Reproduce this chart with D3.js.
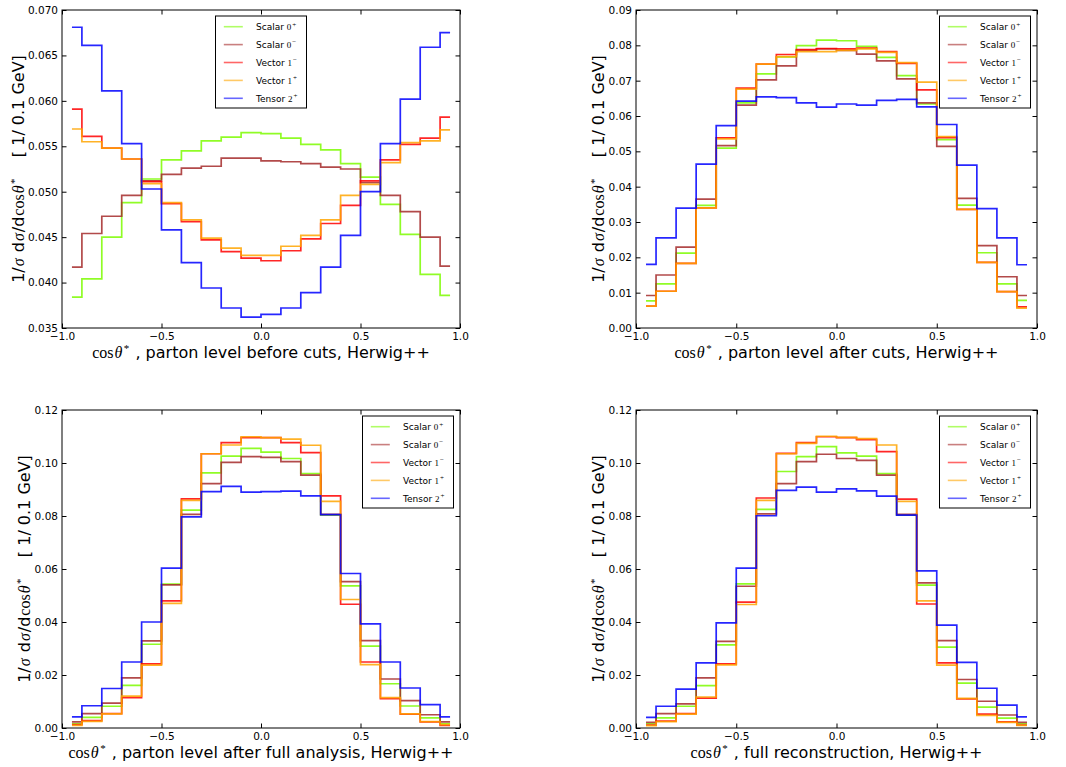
<!DOCTYPE html>
<html>
<head>
<meta charset="utf-8">
<script src="https://cdn.jsdelivr.net/npm/d3@7"></script>
<style>
  body { margin: 0; background: #fff; }
  svg { display: block; }
  text { font-family: "DejaVu Sans", sans-serif; white-space: pre; }
</style>
</head>
<body>
<svg id="chart" width="1066" height="767"></svg>
<script>
// ---------------- DATA ----------------
const binCenters = [-0.95,-0.85,-0.75,-0.65,-0.55,-0.45,-0.35,-0.25,-0.15,-0.05,
                     0.05, 0.15, 0.25, 0.35, 0.45, 0.55, 0.65, 0.75, 0.85, 0.95];

const seriesNames  = ["Scalar", "Scalar", "Vector", "Vector", "Tensor"];
const seriesSpin   = ["0", "0", "1", "1", "2"];
const seriesParity = ["+", "\u2212", "\u2212", "+", "+"];
const seriesColors = ["#7cfc00", "#a52a2a", "#ff0000", "#ffa500", "#0000ff"];

const xTicks   = [-1.0, -0.5, 0.0, 0.5, 1.0];
const p1YTicks = [0.035, 0.040, 0.045, 0.050, 0.055, 0.060, 0.065, 0.070];
const p2YTicks = [0.00, 0.01, 0.02, 0.03, 0.04, 0.05, 0.06, 0.07, 0.08, 0.09];
const p3YTicks = [0.00, 0.02, 0.04, 0.06, 0.08, 0.10, 0.12];

// Panel 1: parton level before cuts
const p1Scalar0p = [0.0384,0.0404,0.0450,0.0488,0.0514,0.0535,0.0545,0.0556,0.0560,0.0565,0.0564,0.0559,0.0552,0.0546,0.0531,0.0516,0.0486,0.0453,0.0409,0.0386];
const p1Scalar0m = [0.0417,0.0454,0.0473,0.0496,0.0512,0.0519,0.0526,0.0528,0.0537,0.0537,0.0534,0.0533,0.0531,0.0527,0.0525,0.0510,0.0496,0.0478,0.0450,0.0418];
const p1Vector1m = [0.0591,0.0561,0.0548,0.0536,0.0511,0.0487,0.0467,0.0447,0.0434,0.0427,0.0424,0.0435,0.0448,0.0465,0.0485,0.0512,0.0535,0.0552,0.0559,0.0582];
const p1Vector1p = [0.0569,0.0555,0.0548,0.0536,0.0509,0.0488,0.0469,0.0449,0.0438,0.0430,0.0430,0.0440,0.0452,0.0469,0.0496,0.0508,0.0532,0.0554,0.0556,0.0568];
const p1Tensor2p = [0.0681,0.0661,0.0611,0.0553,0.0503,0.0458,0.0422,0.0394,0.0372,0.0362,0.0365,0.0372,0.0389,0.0417,0.0452,0.0500,0.0553,0.0602,0.0659,0.0675];

// Panel 2: parton level after cuts
const p2Scalar0p = [0.0077,0.0125,0.0212,0.0347,0.0509,0.0637,0.0719,0.0767,0.0799,0.0815,0.0813,0.0797,0.0766,0.0714,0.0634,0.0533,0.0348,0.0213,0.0125,0.0078];
const p2Scalar0m = [0.0092,0.0150,0.0229,0.0365,0.0516,0.0631,0.0702,0.0742,0.0786,0.0790,0.0786,0.0775,0.0756,0.0705,0.0637,0.0514,0.0367,0.0233,0.0145,0.0092];
const p2Vector1m = [0.0062,0.0104,0.0183,0.0340,0.0538,0.0679,0.0747,0.0774,0.0788,0.0791,0.0790,0.0792,0.0782,0.0749,0.0674,0.0539,0.0336,0.0186,0.0103,0.0060];
const p2Vector1p = [0.0062,0.0104,0.0183,0.0340,0.0535,0.0676,0.0747,0.0768,0.0782,0.0782,0.0786,0.0790,0.0780,0.0751,0.0696,0.0542,0.0336,0.0186,0.0103,0.0056];
const p2Tensor2p = [0.0180,0.0255,0.0339,0.0464,0.0573,0.0642,0.0654,0.0652,0.0637,0.0625,0.0634,0.0631,0.0644,0.0647,0.0626,0.0576,0.0461,0.0338,0.0255,0.0179];

// Panel 3: parton level after full analysis
const p3Scalar0p = [0.0016,0.0040,0.0082,0.0161,0.0316,0.0543,0.0822,0.0963,0.1026,0.1055,0.1041,0.1017,0.0960,0.0803,0.0536,0.0309,0.0167,0.0083,0.0038,0.0016];
const p3Scalar0m = [0.0023,0.0054,0.0094,0.0189,0.0329,0.0540,0.0806,0.0922,0.1002,0.1024,0.1021,0.1005,0.0954,0.0806,0.0552,0.0330,0.0185,0.0103,0.0050,0.0023];
const p3Vector1m = [0.0013,0.0028,0.0054,0.0115,0.0242,0.0480,0.0865,0.1035,0.1077,0.1096,0.1096,0.1077,0.1039,0.0876,0.0467,0.0249,0.0111,0.0052,0.0023,0.0010];
const p3Vector1p = [0.0010,0.0025,0.0053,0.0120,0.0237,0.0470,0.0859,0.1035,0.1068,0.1099,0.1096,0.1090,0.1067,0.0855,0.0485,0.0239,0.0115,0.0053,0.0024,0.0013];
const p3Tensor2p = [0.0042,0.0084,0.0149,0.0249,0.0400,0.0603,0.0797,0.0892,0.0912,0.0890,0.0892,0.0894,0.0876,0.0805,0.0583,0.0393,0.0249,0.0151,0.0088,0.0042];

// Panel 4: full reconstruction
const p4Scalar0p = [0.0016,0.0038,0.0082,0.0160,0.0314,0.0544,0.0825,0.0968,0.1024,0.1062,0.1038,0.1026,0.0960,0.0803,0.0539,0.0305,0.0169,0.0079,0.0037,0.0016];
const p4Scalar0m = [0.0021,0.0054,0.0091,0.0189,0.0327,0.0535,0.0808,0.0922,0.1005,0.1033,0.1017,0.1010,0.0954,0.0806,0.0548,0.0330,0.0183,0.0101,0.0049,0.0021];
const p4Vector1m = [0.0011,0.0026,0.0054,0.0113,0.0242,0.0475,0.0868,0.1036,0.1077,0.1099,0.1096,0.1088,0.1043,0.0864,0.0468,0.0246,0.0110,0.0052,0.0023,0.0011];
const p4Vector1p = [0.0009,0.0024,0.0052,0.0117,0.0238,0.0466,0.0859,0.1035,0.1074,0.1101,0.1097,0.1092,0.1068,0.0855,0.0480,0.0237,0.0112,0.0048,0.0021,0.0010];
const p4Tensor2p = [0.0040,0.0082,0.0147,0.0246,0.0397,0.0603,0.0801,0.0897,0.0909,0.0890,0.0902,0.0895,0.0875,0.0803,0.0593,0.0388,0.0248,0.0150,0.0086,0.0042];

const xLabelTexts = [
  " , parton level before cuts, Herwig++",
  " , parton level after cuts, Herwig++",
  " , parton level after full analysis, Herwig++",
  " , full reconstruction, Herwig++"
];

// ---------------- LAYOUT ----------------
const panels = [
  { x0: 62,  y0: 10,  w: 398, h: 318, yDomain: [0.035, 0.070], yTicks: p1YTicks, yFmt: ".3f", legend: "center", ylabOff: 38,
    series: [p1Scalar0p, p1Scalar0m, p1Vector1m, p1Vector1p, p1Tensor2p], xlab: xLabelTexts[0] },
  { x0: 636, y0: 10,  w: 401, h: 318, yDomain: [0.00, 0.09], yTicks: p2YTicks, yFmt: ".2f", legend: "right", ylabOff: 32,
    series: [p2Scalar0p, p2Scalar0m, p2Vector1m, p2Vector1p, p2Tensor2p], xlab: xLabelTexts[1] },
  { x0: 62,  y0: 410, w: 398, h: 318, yDomain: [0.00, 0.12], yTicks: p3YTicks, yFmt: ".2f", legend: "right", ylabOff: 32,
    series: [p3Scalar0p, p3Scalar0m, p3Vector1m, p3Vector1p, p3Tensor2p], xlab: xLabelTexts[2] },
  { x0: 636, y0: 410, w: 401, h: 318, yDomain: [0.00, 0.12], yTicks: p3YTicks, yFmt: ".2f", legend: "right", ylabOff: 32,
    series: [p4Scalar0p, p4Scalar0m, p4Vector1m, p4Vector1p, p4Tensor2p], xlab: xLabelTexts[3] }
];

const svg = d3.select("#chart");
svg.append("rect").attr("width", 1066).attr("height", 767).attr("fill", "#fff");

const TICK = 4.5;
const serif = "'Liberation Serif','DejaVu Serif',serif";
const LABEL_FS = 16;

panels.forEach((p, pi) => {
  const g = svg.append("g").attr("transform", `translate(${p.x0},${p.y0})`);
  const x = d3.scaleLinear().domain([-1, 1]).range([0, p.w]);
  const y = d3.scaleLinear().domain(p.yDomain).range([p.h, 0]);

  const cid = "clip" + pi;
  g.append("clipPath").attr("id", cid).append("rect").attr("width", p.w).attr("height", p.h);

  const line = d3.line().x((d, i) => x(binCenters[i])).y(d => y(d)).curve(d3.curveStep);
  const lg = g.append("g").attr("clip-path", `url(#${cid})`);
  p.series.forEach((s, si) => {
    lg.append("path").datum(s)
      .attr("d", line)
      .attr("fill", "none")
      .attr("stroke", seriesColors[si])
      .attr("stroke-width", 1.7)
      .attr("stroke-opacity", 0.85);
  });

  const styleAxis = (sel) => {
    sel.select(".domain").remove();
    sel.selectAll(".tick line").attr("stroke", "#000").attr("stroke-width", 1);
    sel.selectAll("text").attr("font-family", "'DejaVu Sans',sans-serif").attr("font-size", 10.5).attr("fill", "#000");
  };
  g.append("g").attr("transform", `translate(0,${p.h})`)
    .call(d3.axisBottom(x).tickValues(xTicks).tickFormat(d3.format(".1f")).tickSizeInner(-TICK).tickSizeOuter(0).tickPadding(4.5))
    .call(styleAxis);
  g.append("g")
    .call(d3.axisTop(x).tickValues(xTicks).tickFormat("").tickSizeInner(-TICK).tickSizeOuter(0))
    .call(styleAxis);
  g.append("g")
    .call(d3.axisLeft(y).tickValues(p.yTicks).tickFormat(d3.format(p.yFmt)).tickSizeInner(-TICK).tickSizeOuter(0).tickPadding(4))
    .call(styleAxis);
  g.append("g").attr("transform", `translate(${p.w},0)`)
    .call(d3.axisRight(y).tickValues(p.yTicks).tickFormat("").tickSizeInner(-TICK).tickSizeOuter(0))
    .call(styleAxis);

  g.append("rect").attr("width", p.w).attr("height", p.h)
    .attr("fill", "none").attr("stroke", "#000").attr("stroke-width", 1);

  // x label
  const xl = g.append("text")
    .attr("x", p.w / 2).attr("y", p.h + 29.5)
    .attr("text-anchor", "middle").attr("font-size", LABEL_FS).attr("fill", "#000");
  xl.append("tspan").attr("font-family", serif).text("cos");
  xl.append("tspan").attr("font-family", serif).attr("font-style", "italic").attr("dx", 1).text("\u03b8");
  xl.append("tspan").attr("font-family", serif).attr("font-size", 11).attr("dx", 1.5).attr("dy", -6).text("*");
  xl.append("tspan").attr("dy", 6).attr("dx", 1).text(p.xlab);

  // y label
  const yl = g.append("text")
    .attr("transform", `translate(${-p.ylabOff},${p.h / 2}) rotate(-90)`)
    .attr("text-anchor", "middle").attr("font-size", LABEL_FS).attr("fill", "#000");
  yl.append("tspan").text("1/");
  yl.append("tspan").attr("font-family", serif).attr("font-style", "italic").attr("dx", 1).text("\u03c3");
  yl.append("tspan").attr("dx", 1).text(" d");
  yl.append("tspan").attr("font-family", serif).attr("font-style", "italic").attr("dx", 1).text("\u03c3");
  yl.append("tspan").attr("dx", 1).text("/d");
  yl.append("tspan").attr("font-family", serif).attr("dx", 1).text("cos");
  yl.append("tspan").attr("font-family", serif).attr("font-style", "italic").attr("dx", 1).text("\u03b8");
  yl.append("tspan").attr("font-family", serif).attr("font-size", 11).attr("dx", 1.5).attr("dy", -6).text("*");
  yl.append("tspan").attr("dy", 6).attr("dx", 1).text("    [ 1/ 0.1 GeV]");

  // legend
  const LW = 91, LH = 92;
  const lx = p.legend === "center" ? (p.w - LW) / 2 : p.w - LW - 6.5;
  const ly = 6;
  const leg = g.append("g").attr("transform", `translate(${lx},${ly})`);
  leg.append("rect").attr("width", LW).attr("height", LH)
    .attr("fill", "#fff").attr("stroke", "#000").attr("stroke-width", 1);
  seriesNames.forEach((nm, si) => {
    const ry = 10.7 + si * 17.9;
    leg.append("line").attr("x1", 8.3).attr("x2", 27.3).attr("y1", ry).attr("y2", ry)
      .attr("stroke", seriesColors[si]).attr("stroke-width", 1.6).attr("stroke-opacity", 0.6);
    const t = leg.append("text").attr("x", 40.5).attr("y", ry + 3.3)
      .attr("font-size", 9).attr("fill", "#000");
    t.append("tspan").text(nm + " ");
    t.append("tspan").attr("font-family", serif).text(seriesSpin[si]);
    t.append("tspan").attr("font-family", serif).attr("font-size", 7).attr("dx", 1).attr("dy", -3.5).text(seriesParity[si]);
  });
});
</script>
</body>
</html>
